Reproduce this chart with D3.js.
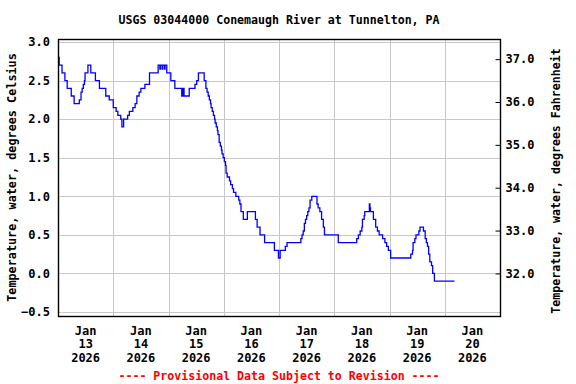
<!DOCTYPE html>
<html>
<head>
<meta charset="utf-8">
<script src="https://cdn.jsdelivr.net/npm/d3@7"></script>
<style>
body { margin: 0; background: #fff; }
text { font-family: "DejaVu Sans Mono", monospace; font-weight: bold; font-size: 12px; }
</style>
</head>
<body>
<script>
// hours after Jan 13 2026 00:00 and water temperature (deg C), 15-minute record
var hours = [0, 0.5, 1.75, 3, 4, 5.75, 7, 9.25, 10, 10.5, 11, 11.5, 11.75, 13, 14.25, 16.25, 18, 20.75, 22.25,
    24, 25.25, 26, 27.25, 27.75, 28.5, 30.25, 31, 32.5, 33.5, 34.25, 35.25, 36, 37.75, 39.75, 43.5,
    44.25, 44.5, 45.25, 45.5, 46.25, 46.5, 47.25, 49, 50.75, 53.75, 54.25, 54.75, 57, 59.5, 60.25, 61,
    63.5, 64.25, 64.75, 65.25, 65.75, 66.25, 66.5, 67, 67.5, 68, 68.25, 68.75, 69.25, 69.5, 70, 70.5,
    71, 71.25, 71.75, 72.25, 72.75, 73, 73.5, 74.5, 75, 75.75, 76.25, 77.25, 78.5, 79, 79.5, 80.5,
    82.25, 85.75, 86.5, 87.75, 89.75, 94, 95.75, 96.5, 98.75, 99.5, 105.5, 106, 106.5, 107, 107.5,
    108, 108.5, 109, 109.5, 110.25, 112.5, 113, 113.75, 114.5, 115.25, 115.75, 121.75, 129.75, 130.5,
    131.25, 132, 132.25, 133, 133.25, 135.25, 135.5, 135.75, 137, 138, 138.75, 139.5, 141, 142,
    142.75, 143.5, 144.5, 153.25, 154, 154.25, 155, 155.5, 156.75, 157.25, 158.75, 159.5, 160,
    160.5, 161, 161.5, 162.25, 162.75, 163.5, 172.25];
var tempC = [2.8, 2.7, 2.6, 2.5, 2.4, 2.3, 2.2, 2.25, 2.35, 2.4, 2.45, 2.5, 2.6, 2.7, 2.6, 2.5, 2.4, 2.3, 2.25,
    2.15, 2.1, 2.05, 2.0, 1.9, 2.0, 2.05, 2.1, 2.15, 2.2, 2.3, 2.35, 2.4, 2.45, 2.6, 2.7,
    2.65, 2.7, 2.65, 2.7, 2.65, 2.7, 2.6, 2.5, 2.4, 2.3, 2.4, 2.3, 2.4, 2.45, 2.5, 2.6,
    2.5, 2.4, 2.35, 2.3, 2.25, 2.2, 2.15, 2.1, 2.05, 2.0, 1.95, 1.9, 1.85, 1.8, 1.7, 1.65,
    1.6, 1.55, 1.5, 1.45, 1.4, 1.3, 1.25, 1.2, 1.15, 1.1, 1.05, 1.0, 0.95, 0.9, 0.8, 0.7,
    0.8, 0.7, 0.6, 0.5, 0.4, 0.3, 0.2, 0.3, 0.35, 0.4, 0.45, 0.5, 0.55, 0.65, 0.7,
    0.75, 0.8, 0.85, 0.95, 1.0, 0.9, 0.85, 0.8, 0.7, 0.6, 0.5, 0.4, 0.45, 0.5,
    0.55, 0.6, 0.7, 0.75, 0.8, 0.9, 0.85, 0.8, 0.7, 0.6, 0.55, 0.5, 0.45, 0.4,
    0.35, 0.3, 0.2, 0.25, 0.3, 0.4, 0.45, 0.5, 0.55, 0.6, 0.55, 0.45, 0.4,
    0.35, 0.25, 0.15, 0.1, 0.0, -0.1, -0.1];

var dayLabels = ["13", "14", "15", "16", "17", "18", "19", "20"];
var celsiusTicks = [3.0, 2.5, 2.0, 1.5, 1.0, 0.5, 0.0, -0.5];
var fahrenheitTicks = [32, 33, 34, 35, 36, 37];

function drawChart() {
    var w = 576, h = 384;
    var padL = 58, padR = 500, padT = 39, padB = 316;
    var start = new Date(2026, 0, 13), end = new Date(2026, 0, 21);

    var xScale = d3.scaleTime().domain([start, end]).range([padL, padR]);
    var yScale = d3.scaleLinear().domain([-0.552, 3.039]).range([padB, padT]);
    var yScaleF = d3.scaleLinear()
        .domain(yScale.domain().map(function(c) { return c * 1.8 + 32; }))
        .range([padB, padT]);

    var data = hours.map(function(hr, i) {
        return { t: new Date(start.getTime() + hr * 3600e3), v: tempC[i] };
    });

    var svg = d3.select("body").append("svg")
        .attr("width", w)
        .attr("height", h);

    svg.append("rect").attr("width", w).attr("height", h).attr("fill", "#fff");

    // grid
    svg.append("g")
        .selectAll("line")
        .data(celsiusTicks)
        .enter().append("line")
        .attr("x1", padL).attr("x2", padR)
        .attr("y1", function(d) { return Math.round(yScale(d)) + 0.5; })
        .attr("y2", function(d) { return Math.round(yScale(d)) + 0.5; })
        .attr("stroke", "#c8c8c8");
    svg.append("g")
        .selectAll("line")
        .data(d3.timeDay.range(d3.timeDay.offset(start, 1), end))
        .enter().append("line")
        .attr("y1", padT).attr("y2", padB)
        .attr("x1", function(d) { return Math.round(xScale(d)) + 0.5; })
        .attr("x2", function(d) { return Math.round(xScale(d)) + 0.5; })
        .attr("stroke", "#c8c8c8");

    // data line
    var line = d3.line()
        .x(function(d) { return xScale(d.t); })
        .y(function(d) { return yScale(d.v); })
        .curve(d3.curveStepAfter);
    svg.append("path")
        .datum(data)
        .attr("d", line)
        .attr("fill", "none")
        .attr("stroke", "#0000ff")
        .attr("stroke-width", 1.3);

    // frame
    svg.append("rect")
        .attr("x", padL + 0.5).attr("y", padT + 0.5)
        .attr("width", padR - padL).attr("height", padB - padT)
        .attr("fill", "none")
        .attr("stroke", "#000")
        .attr("stroke-width", 1.4);

    // left axis (Celsius)
    var yAxis = d3.axisLeft(yScale)
        .tickValues(celsiusTicks)
        .tickSize(0)
        .tickPadding(8)
        .tickFormat(d3.format(".1f"));
    var gy = svg.append("g")
        .attr("transform", "translate(" + padL + ",0)")
        .call(yAxis);
    gy.select(".domain").remove();
    gy.selectAll("text").attr("fill", "#000").style("font-size", "12px");

    // right axis (Fahrenheit), ticks point inward
    var yAxisF = d3.axisLeft(yScaleF)
        .tickValues(fahrenheitTicks)
        .tickSize(5)
        .tickFormat(d3.format(".1f"));
    var gf = svg.append("g")
        .attr("transform", "translate(" + (padR + 0.5) + ",0)")
        .call(yAxisF);
    gf.select(".domain").remove();
    gf.selectAll("line").attr("stroke", "#000");
    gf.selectAll("text")
        .attr("x", 5)
        .style("text-anchor", "start")
        .attr("fill", "#000")
        .style("font-size", "12px");

    // day labels at noon
    var days = svg.append("g")
        .selectAll("text")
        .data(dayLabels)
        .enter().append("text")
        .attr("text-anchor", "middle")
        .attr("transform", function(d, i) {
            return "translate(" + xScale(d3.timeHour.offset(d3.timeDay.offset(start, i), 12)) + ",0)";
        });
    days.append("tspan").attr("x", 0).attr("y", 334.5).text("Jan");
    days.append("tspan").attr("x", 0).attr("y", 348).text(function(d) { return d; });
    days.append("tspan").attr("x", 0).attr("y", 361.5).text("2026");

    // titles
    svg.append("text")
        .attr("x", (padL + padR) / 2)
        .attr("y", 24)
        .attr("text-anchor", "middle")
        .style("font-size", "11.6px")
        .text("USGS 03044000 Conemaugh River at Tunnelton, PA");
    svg.append("text")
        .attr("transform", "rotate(-90)")
        .attr("x", -(padT + padB) / 2)
        .attr("y", 15.5)
        .attr("text-anchor", "middle")
        .style("font-size", "11.8px")
        .text("Temperature, water, degrees Celsius");
    svg.append("text")
        .attr("transform", "rotate(-90)")
        .attr("x", -181)
        .attr("y", 560)
        .attr("text-anchor", "middle")
        .style("font-size", "11.6px")
        .text("Temperature, water, degrees Fahrenheit");
    svg.append("text")
        .attr("x", (padL + padR) / 2)
        .attr("y", 379.5)
        .attr("text-anchor", "middle")
        .attr("fill", "#ff0000")
        .style("font-size", "11.6px")
        .text("---- Provisional Data Subject to Revision ----");
}
drawChart();
</script>
</body>
</html>
